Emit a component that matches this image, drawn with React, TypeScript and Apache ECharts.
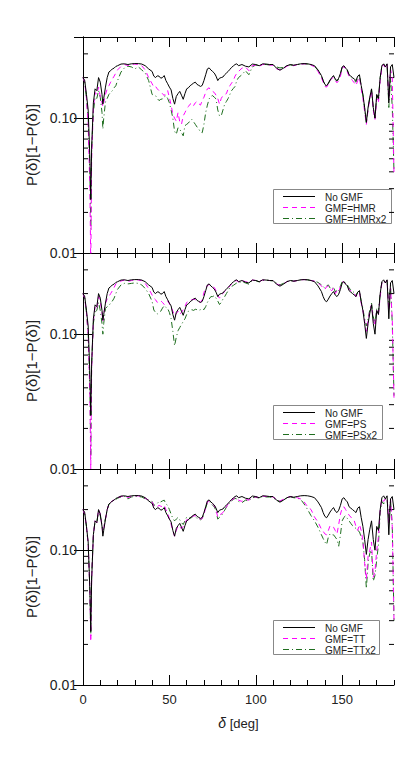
import React, { useEffect, useRef } from "react";
import * as echarts from "echarts";

// delta [deg]
const DEG = [
  0, 1, 2, 3, 4, 4.5, 5, 6, 7, 8, 9, 10, 11, 11.5, 12, 13, 14, 15, 16, 17, 18, 19, 20,
  22, 24, 26, 28, 30, 32, 34, 36, 38, 40,
  41, 42, 43, 44, 45, 46, 47, 48, 49, 50, 51, 52, 53, 54, 55, 56, 57, 58, 59, 60,
  61, 62, 63, 64, 65, 66, 67, 68, 69, 70, 71, 72, 73, 74, 75, 76, 77, 78, 79, 80,
  81, 82, 83, 84, 85, 86, 87, 88, 89, 90,
  92, 94, 96, 98, 100, 102, 104, 106, 108, 110, 112, 114, 116, 118, 120, 122, 124, 126, 128, 130, 132, 134, 136,
  138, 139, 140, 141, 142, 143, 144, 145, 146, 147, 148, 149, 150, 151, 152, 153, 154, 155, 156, 157,
  158, 159, 160, 161, 162, 163, 164, 165, 166, 167, 168, 169, 170, 171, 172, 173, 174, 175, 176, 177,
  178, 179, 180,
];

const NO_GMF = [
  0.2, 0.19, 0.15, 0.115, 0.05, 0.025, 0.06, 0.13, 0.165, 0.16, 0.2, 0.185, 0.15, 0.127, 0.14, 0.17, 0.2, 0.22, 0.225, 0.232, 0.235, 0.242, 0.245,
  0.252, 0.253, 0.25, 0.253, 0.254, 0.254, 0.252, 0.245, 0.232, 0.222,
  0.205, 0.2, 0.206, 0.205, 0.198, 0.2, 0.207, 0.19, 0.18, 0.17,
  0.162, 0.14, 0.127, 0.145, 0.152, 0.158, 0.148, 0.138, 0.152, 0.165,
  0.168, 0.174, 0.178, 0.182, 0.185, 0.178, 0.175, 0.172, 0.175, 0.19,
  0.21, 0.232, 0.236, 0.228, 0.222, 0.216, 0.205, 0.19, 0.198, 0.2,
  0.202, 0.21, 0.216, 0.222, 0.23, 0.238, 0.244, 0.25, 0.253, 0.245,
  0.25, 0.243, 0.24, 0.252, 0.25, 0.245, 0.253, 0.252, 0.25, 0.25, 0.235, 0.227, 0.235, 0.245, 0.25, 0.247, 0.25, 0.253, 0.254, 0.253, 0.25, 0.245, 0.228,
  0.207, 0.19, 0.178, 0.174, 0.182, 0.192, 0.2, 0.207, 0.195, 0.19,
  0.198, 0.215, 0.24, 0.245, 0.235, 0.228, 0.21, 0.205, 0.2, 0.195,
  0.19, 0.205, 0.21, 0.175, 0.15, 0.12, 0.093, 0.12, 0.143, 0.165,
  0.12, 0.1, 0.15, 0.14, 0.2, 0.245, 0.253, 0.24, 0.253, 0.13,
  0.24, 0.25, 0.2,
];

const GMF_HMR = [
  0.2, 0.185, 0.14, 0.09, 0.03, 0.008, 0.05, 0.12, 0.155, 0.15, 0.17, 0.145, 0.13, 0.122, 0.13, 0.15, 0.165, 0.174, 0.185, 0.195, 0.205, 0.216, 0.228,
  0.242, 0.25, 0.246, 0.25, 0.252, 0.25, 0.245, 0.228, 0.2, 0.18,
  0.17, 0.172, 0.165, 0.16, 0.157, 0.152, 0.147, 0.155, 0.16, 0.142,
  0.125, 0.107, 0.1, 0.095, 0.11, 0.094, 0.09, 0.104, 0.11, 0.117,
  0.122, 0.127, 0.13, 0.124, 0.13, 0.133, 0.128, 0.125, 0.135, 0.143,
  0.155, 0.165, 0.168, 0.16, 0.158, 0.155, 0.148, 0.14, 0.127, 0.14,
  0.147, 0.15, 0.152, 0.165, 0.174, 0.182, 0.19, 0.205, 0.215, 0.222,
  0.235, 0.24, 0.225, 0.245, 0.248, 0.243, 0.25, 0.25, 0.248, 0.247, 0.232, 0.228, 0.233, 0.243, 0.248, 0.245, 0.25, 0.252, 0.253, 0.252, 0.248, 0.24, 0.222,
  0.2, 0.185, 0.172, 0.17, 0.178, 0.19, 0.198, 0.2, 0.19, 0.183,
  0.19, 0.205, 0.232, 0.243, 0.23, 0.22, 0.205, 0.198, 0.19, 0.183,
  0.175, 0.19, 0.2, 0.165, 0.14, 0.112, 0.09, 0.115, 0.14, 0.16,
  0.115, 0.098, 0.14, 0.13, 0.19, 0.24, 0.25, 0.235, 0.25, 0.14,
  0.23, 0.2, 0.038,
];

const GMF_HMR2 = [
  0.2, 0.185, 0.14, 0.1, 0.04, 0.015, 0.06, 0.11, 0.143, 0.14, 0.16, 0.143, 0.11, 0.083, 0.1, 0.132, 0.14, 0.15, 0.155, 0.16, 0.168, 0.174, 0.19,
  0.22, 0.236, 0.243, 0.24, 0.232, 0.24, 0.228, 0.216, 0.19, 0.15,
  0.148, 0.147, 0.14, 0.135, 0.138, 0.139, 0.144, 0.147, 0.14, 0.13,
  0.115, 0.1, 0.08, 0.076, 0.085, 0.083, 0.078, 0.074, 0.088, 0.09,
  0.092, 0.096, 0.098, 0.094, 0.09, 0.086, 0.083, 0.079, 0.078, 0.09,
  0.11, 0.125, 0.139, 0.145, 0.147, 0.143, 0.139, 0.115, 0.104, 0.104,
  0.115, 0.127, 0.133, 0.14, 0.15, 0.16, 0.166, 0.172, 0.19, 0.2,
  0.21, 0.225, 0.21, 0.24, 0.248, 0.245, 0.25, 0.25, 0.248, 0.248, 0.24, 0.236, 0.238, 0.245, 0.248, 0.246, 0.25, 0.252, 0.253, 0.252, 0.248, 0.243, 0.226,
  0.205, 0.19, 0.176, 0.172, 0.18, 0.19, 0.198, 0.205, 0.193, 0.188,
  0.195, 0.212, 0.238, 0.245, 0.233, 0.225, 0.208, 0.202, 0.196, 0.19,
  0.185, 0.2, 0.208, 0.172, 0.148, 0.118, 0.092, 0.118, 0.142, 0.163,
  0.118, 0.1, 0.148, 0.138, 0.2, 0.243, 0.252, 0.238, 0.252, 0.12,
  0.2, 0.12, 0.04,
];

const GMF_PS = [
  0.2, 0.185, 0.145, 0.1, 0.035, 0.01, 0.055, 0.125, 0.16, 0.155, 0.19, 0.175, 0.145, 0.125, 0.14, 0.17, 0.182, 0.19, 0.2, 0.21, 0.222, 0.236, 0.242,
  0.248, 0.252, 0.246, 0.25, 0.253, 0.252, 0.25, 0.238, 0.218, 0.195,
  0.185, 0.18, 0.172, 0.175, 0.177, 0.172, 0.166, 0.172, 0.176, 0.168,
  0.16, 0.148, 0.137, 0.142, 0.148, 0.14, 0.145, 0.152, 0.16, 0.172,
  0.175, 0.178, 0.18, 0.182, 0.18, 0.176, 0.174, 0.172, 0.18, 0.204,
  0.22, 0.23, 0.233, 0.226, 0.224, 0.222, 0.21, 0.193, 0.185, 0.195,
  0.2, 0.208, 0.214, 0.22, 0.228, 0.235, 0.242, 0.248, 0.25, 0.244,
  0.25, 0.245, 0.242, 0.252, 0.25, 0.246, 0.252, 0.252, 0.25, 0.25, 0.236, 0.23, 0.236, 0.245, 0.25, 0.247, 0.25, 0.253, 0.254, 0.253, 0.25, 0.247, 0.24,
  0.228, 0.22, 0.215, 0.225, 0.228, 0.215, 0.21, 0.22, 0.2, 0.21,
  0.205, 0.225, 0.243, 0.245, 0.236, 0.228, 0.215, 0.21, 0.205, 0.2,
  0.19, 0.2, 0.205, 0.17, 0.15, 0.125, 0.105, 0.125, 0.148, 0.165,
  0.13, 0.115, 0.15, 0.14, 0.19, 0.24, 0.25, 0.24, 0.25, 0.15,
  0.22, 0.13, 0.033,
];

const GMF_PS2 = [
  0.2, 0.185, 0.145, 0.1, 0.04, 0.012, 0.06, 0.12, 0.146, 0.15, 0.172, 0.15, 0.12, 0.1, 0.12, 0.155, 0.16, 0.163, 0.17, 0.176, 0.185, 0.2, 0.215,
  0.232, 0.238, 0.236, 0.238, 0.24, 0.238, 0.232, 0.218, 0.2, 0.175,
  0.151, 0.145, 0.141, 0.145, 0.148, 0.156, 0.163, 0.158, 0.155, 0.145,
  0.13, 0.105, 0.082, 0.095, 0.106, 0.112, 0.118, 0.124, 0.13, 0.14,
  0.148, 0.15, 0.152, 0.15, 0.153, 0.152, 0.15, 0.152, 0.155, 0.152,
  0.16, 0.172, 0.182, 0.19, 0.19, 0.193, 0.185, 0.176, 0.166, 0.172,
  0.182, 0.19, 0.2, 0.21, 0.222, 0.226, 0.23, 0.235, 0.24, 0.24,
  0.245, 0.24, 0.235, 0.25, 0.25, 0.244, 0.25, 0.252, 0.25, 0.248, 0.24, 0.232, 0.238, 0.246, 0.25, 0.248, 0.25, 0.253, 0.254, 0.253, 0.25, 0.248, 0.242,
  0.232, 0.225, 0.22, 0.228, 0.232, 0.22, 0.215, 0.225, 0.205, 0.215,
  0.21, 0.228, 0.245, 0.247, 0.24, 0.232, 0.22, 0.214, 0.208, 0.203,
  0.195, 0.205, 0.21, 0.175, 0.155, 0.13, 0.115, 0.13, 0.152, 0.17,
  0.135, 0.12, 0.155, 0.145, 0.2, 0.243, 0.25, 0.24, 0.25, 0.16,
  0.23, 0.12, 0.035,
];

const GMF_TT = [
  0.2, 0.185, 0.15, 0.11, 0.05, 0.021, 0.06, 0.13, 0.165, 0.16, 0.2, 0.185, 0.15, 0.135, 0.145, 0.17, 0.2, 0.22, 0.226, 0.232, 0.236, 0.24, 0.245,
  0.25, 0.252, 0.246, 0.25, 0.253, 0.253, 0.25, 0.243, 0.235, 0.228,
  0.212, 0.208, 0.21, 0.215, 0.212, 0.21, 0.215, 0.2, 0.19, 0.17,
  0.155, 0.14, 0.127, 0.14, 0.152, 0.148, 0.145, 0.15, 0.158, 0.168,
  0.168, 0.172, 0.176, 0.18, 0.18, 0.175, 0.172, 0.17, 0.172, 0.186,
  0.205, 0.228, 0.232, 0.226, 0.22, 0.214, 0.2, 0.176, 0.182, 0.186,
  0.19, 0.2, 0.21, 0.22, 0.228, 0.235, 0.24, 0.245, 0.245, 0.235,
  0.23, 0.238, 0.235, 0.248, 0.248, 0.245, 0.252, 0.25, 0.25, 0.248, 0.238, 0.232, 0.238, 0.245, 0.25, 0.247, 0.245, 0.24, 0.228, 0.21, 0.2, 0.176, 0.162,
  0.143, 0.138, 0.132, 0.13, 0.14, 0.152, 0.15, 0.148, 0.14, 0.132,
  0.155, 0.185, 0.205, 0.21, 0.2, 0.19, 0.182, 0.176, 0.17, 0.165,
  0.15, 0.14, 0.155, 0.14, 0.118, 0.08, 0.061, 0.09, 0.1, 0.115,
  0.063, 0.07, 0.1, 0.125, 0.2, 0.24, 0.23, 0.24, 0.245, 0.16,
  0.24, 0.15, 0.03,
];

const GMF_TT2 = [
  0.2, 0.185, 0.15, 0.11, 0.05, 0.023, 0.065, 0.13, 0.165, 0.16, 0.195, 0.18, 0.152, 0.14, 0.15, 0.172, 0.2, 0.218, 0.225, 0.23, 0.235, 0.238, 0.243,
  0.248, 0.25, 0.24, 0.248, 0.25, 0.25, 0.248, 0.24, 0.235, 0.23,
  0.215, 0.218, 0.222, 0.23, 0.228, 0.232, 0.235, 0.22, 0.215, 0.2,
  0.185, 0.172, 0.165, 0.17, 0.175, 0.168, 0.16, 0.155, 0.165, 0.176,
  0.175, 0.172, 0.175, 0.18, 0.178, 0.172, 0.17, 0.168, 0.172, 0.185,
  0.205, 0.225, 0.23, 0.222, 0.215, 0.21, 0.195, 0.17, 0.175, 0.18,
  0.188, 0.198, 0.208, 0.218, 0.225, 0.232, 0.238, 0.242, 0.24, 0.23,
  0.225, 0.235, 0.232, 0.245, 0.247, 0.243, 0.25, 0.248, 0.248, 0.245, 0.235, 0.23, 0.236, 0.243, 0.248, 0.245, 0.243, 0.238, 0.22, 0.2, 0.18, 0.165, 0.148,
  0.13, 0.122, 0.115, 0.11, 0.125, 0.132, 0.13, 0.13, 0.125, 0.12,
  0.107, 0.13, 0.165, 0.175, 0.18, 0.172, 0.165, 0.158, 0.152, 0.148,
  0.145, 0.14, 0.137, 0.125, 0.115, 0.085, 0.052, 0.08, 0.095, 0.1,
  0.059, 0.065, 0.085, 0.11, 0.19, 0.23, 0.22, 0.24, 0.24, 0.17,
  0.235, 0.15, 0.03,
];

const X_LABELS_SHOWN = [0, 50, 100, 150];
const Y_MINOR = [0.02, 0.03, 0.04, 0.05, 0.06, 0.07, 0.08, 0.09, 0.2, 0.3];

const PANELS = [
  { names: ["No GMF", "GMF=HMR", "GMF=HMRx2"], values: [NO_GMF, GMF_HMR, GMF_HMR2] },
  { names: ["No GMF", "GMF=PS", "GMF=PSx2"], values: [NO_GMF, GMF_PS, GMF_PS2] },
  { names: ["No GMF", "GMF=TT", "GMF=TTx2"], values: [NO_GMF, GMF_TT, GMF_TT2] },
];

const FONT = "Liberation Sans, Arial, sans-serif";
const STYLES = [
  { color: "#000000", type: "solid", width: 1 },
  { color: "#ff00ff", type: [5, 4], width: 1 },
  { color: "#1f6e1f", type: [6, 3, 1, 3], width: 1 },
];

export default function App() {
  const ref = useRef<HTMLDivElement>(null);

  useEffect(() => {
    if (!ref.current) return;
    const chart = echarts.init(ref.current, null, { renderer: "svg" });

    const GL = 83, GW = 311, GH = 216;
    const tops = [37, 253, 469];
    const legendTops = [189, 405, 620];
    const legendWidths = [118, 109, 106];

    const grid: any[] = [];
    const xAxis: any[] = [];
    const yAxis: any[] = [];
    const series: any[] = [];
    const graphic: any[] = [];

    tops.forEach((top, g) => {
      grid.push({ left: GL, top, width: GW, height: GH, containLabel: false });
      const last = g === tops.length - 1;
      const baseX = {
        type: "value",
        gridIndex: g,
        min: 0,
        max: 180,
        splitLine: { show: false },
        axisLine: { show: true, lineStyle: { color: "#000", width: 1 } },
      };
      xAxis.push({
        ...baseX,
        position: "bottom",
        interval: 50,
        axisTick: { show: true, inside: true, length: 10, lineStyle: { color: "#000" } },
        axisLabel: {
          show: last,
          showMaxLabel: false,
          margin: 8,
          fontSize: 13,
          color: "#222",
          fontFamily: FONT,
          formatter: (v: number) => (X_LABELS_SHOWN.includes(v) ? String(v) : ""),
        },
        name: last ? "{i|δ} [deg]" : "",
        nameLocation: "middle",
        nameGap: 31,
        nameTextStyle: {
          fontSize: 13,
          color: "#222",
          fontFamily: FONT,
          rich: { i: { fontSize: 14, fontStyle: "italic", color: "#222", fontFamily: FONT } },
        },
      });
      xAxis.push({
        ...baseX,
        position: "bottom",
        interval: 10,
        axisLine: { show: false },
        axisTick: { show: true, inside: true, length: 5, lineStyle: { color: "#000" } },
        axisLabel: { show: false },
      });
      xAxis.push({
        ...baseX,
        position: "top",
        interval: 50,
        axisTick: { show: true, inside: true, length: 10, lineStyle: { color: "#000" } },
        axisLabel: { show: false },
      });
      xAxis.push({
        ...baseX,
        position: "top",
        interval: 10,
        axisLine: { show: false },
        axisTick: { show: true, inside: true, length: 5, lineStyle: { color: "#000" } },
        axisLabel: { show: false },
      });

      const baseY = {
        type: "log",
        logBase: 10,
        gridIndex: g,
        min: 0.01,
        max: 0.4,
        splitLine: { show: false },
        axisLine: { show: true, lineStyle: { color: "#000", width: 1 } },
        axisTick: { show: true, inside: true, length: 9, lineStyle: { color: "#000" } },
      };
      yAxis.push({
        ...baseY,
        position: "left",
        axisLabel: {
          show: true,
          showMaxLabel: false,
          margin: 6,
          fontSize: 14,
          color: "#222",
          fontFamily: FONT,
          formatter: (v: number) =>
            Math.abs(v - 0.01) < 1e-6 ? "0.01" : Math.abs(v - 0.1) < 1e-6 ? "0.10" : "",
        },
        name: "P(δ)[1−P(δ)]",
        nameLocation: "middle",
        nameGap: 38,
        nameRotate: 90,
        nameTextStyle: { fontSize: 15, color: "#222", fontFamily: FONT },
      });
      yAxis.push({
        ...baseY,
        position: "right",
        axisLabel: { show: false },
      });

      const p = PANELS[g];
      p.names.forEach((name, k) => {
        const st = STYLES[k];
        series.push({
          type: "line",
          name,
          xAxisIndex: 4 * g,
          yAxisIndex: 2 * g,
          data: DEG.map((d, i) => [d, p.values[k][i]]),
          symbol: "none",
          showSymbol: false,
          clip: true,
          z: 3 - k,
          lineStyle: { color: st.color, type: st.type, width: st.width },
          itemStyle: { color: st.color },
        });
      });

      series.push({
        type: "custom",
        xAxisIndex: 4 * g,
        yAxisIndex: 2 * g,
        silent: true,
        clip: false,
        data: Y_MINOR.map((v) => [0, v]),
        renderItem: (params: any, api: any) => {
          const v = api.value(1);
          const pl = api.coord([0, v]);
          const pr = api.coord([180, v]);
          return {
            type: "group",
            children: [
              { type: "line", shape: { x1: pl[0], y1: pl[1], x2: pl[0] + 5, y2: pl[1] }, style: { stroke: "#000", lineWidth: 1 } },
              { type: "line", shape: { x1: pr[0] - 5, y1: pr[1], x2: pr[0], y2: pr[1] }, style: { stroke: "#000", lineWidth: 1 } },
            ],
          };
        },
      });

      // legend box (keys)
      const children: any[] = [
        {
          type: "rect",
          shape: { x: 0.5, y: 0.5, width: legendWidths[g], height: 34 },
          style: { fill: "#fff", stroke: "#888", lineWidth: 1 },
        },
      ];
      p.names.forEach((name, k) => {
        const yy = 7.5 + 11 * k;
        children.push({
          type: "line",
          shape: { x1: 10, y1: yy, x2: 42, y2: yy },
          style: { stroke: STYLES[k].color, lineWidth: 1, lineDash: k === 0 ? null : STYLES[k].type },
        });
        children.push({
          type: "text",
          x: 52,
          y: yy + 0.5,
          style: { text: name, fill: "#222", font: `10px ${FONT}`, verticalAlign: "middle" },
        });
      });
      graphic.push({ type: "group", x: 273, y: legendTops[g], z: 50, children });
    });

    chart.setOption({
      animation: false,
      backgroundColor: "#fff",
      grid,
      xAxis,
      yAxis,
      graphic,
      series,
    });

    return () => chart.dispose();
  }, []);

  return (
    <div
      ref={ref}
      style={{ position: "fixed", left: 0, top: 0, width: 415, height: 761, background: "#fff" }}
    />
  );
}
